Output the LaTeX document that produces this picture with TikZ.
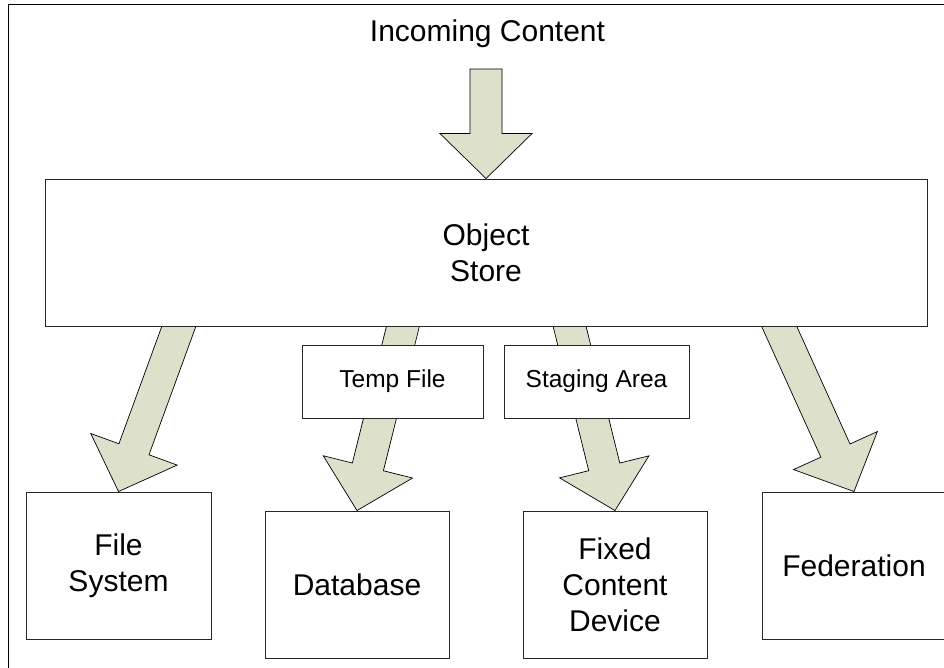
\documentclass[tikz,border=0pt]{standalone}
\usepackage{fontspec}
\setmainfont{Liberation Sans}
\usetikzlibrary{calc}
\definecolor{arrowfill}{RGB}{221,224,203}
\pgfdeclarelayer{bg}
\pgfsetlayers{bg,main}
\tikzset{
  box/.style={draw=black!85, fill=white, line width=0.9pt, inner sep=0pt, align=center,
    font=\fontsize{30}{36}\selectfont},
  smallbox/.style={box, font=\fontsize{24.5}{29}\selectfont},
  fat/.style={draw=black, fill=arrowfill, line width=0.7pt, line join=miter},
}
% #1 back extension, #2 start, #3 tip
\newcommand\fatarrow[3]{%
  \coordinate (fa-s) at ($(#2)!-#1!(#3)$);
  \coordinate (fa-b) at ($(#3)!45pt!(#2)$);
  \draw[fat] ($(fa-s)!16pt!90:(#3)$) -- ($(fa-b)!16pt!90:(#3)$) -- ($(fa-b)!46pt!90:(#3)$)
    -- (#3) -- ($(fa-b)!46pt!-90:(#3)$) -- ($(fa-b)!16pt!-90:(#3)$) -- ($(fa-s)!16pt!-90:(#3)$) -- cycle;}
\begin{document}
\begin{tikzpicture}[x=1pt,y=-1pt]
\useasboundingbox (0,0) rectangle (944,668);
% frame (clipped at right and bottom)
\draw[line width=1pt] (8,700) -- (8,5) -- (980,5);

\node[font=\fontsize{30}{36}\selectfont, anchor=base, inner sep=0pt] (inc) at (487.5,42) {Incoming Content};
\coordinate (in0) at (486,69);

\node[box, minimum width=882pt, minimum height=147pt] (os) at (486,252.5) {Object\\Store};

\node[box, minimum width=185pt, minimum height=147pt] (fs) at (118.5,565.5) {File\\System};
\node[box, minimum width=184pt, minimum height=147pt] (db) at (357,584.5) {Database};
\node[box, minimum width=184pt, minimum height=147pt] (fcd) at (615,584.5) {Fixed\\Content\\Device};
\node[box, minimum width=184pt, minimum height=147pt] (fed) at (854,565.5) {Federation};

\node[smallbox, minimum width=181pt, minimum height=73pt] (tmp) at (392.5,381.5) {Temp File};
\node[smallbox, minimum width=185pt, minimum height=73pt] (stg) at (596.5,381.5) {Staging Area};

\coordinate (a1) at (179,326);
\coordinate (a2) at (403,326);
\coordinate (a3) at (569.5,326);
\coordinate (a4) at (779,326);

\begin{pgfonlayer}{bg}
  \fatarrow{0pt}{in0}{os.north}
  \fatarrow{25pt}{a1}{fs.north}
  \fatarrow{25pt}{a2}{db.north}
  \fatarrow{25pt}{a3}{fcd.north}
  \fatarrow{25pt}{a4}{fed.north}
\end{pgfonlayer}
\end{tikzpicture}
\end{document}
